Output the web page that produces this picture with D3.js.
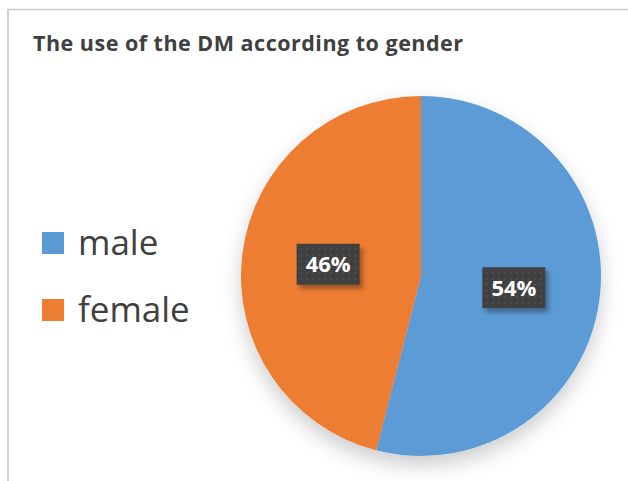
<!DOCTYPE html>
<html lang="en">
<head>
  <meta charset="utf-8">
  <title>The use of the DM according to gender</title>
  <script src="https://d3js.org/d3.v7.min.js"></script>
  <style>
    body { margin: 0; background: #fff; }
    text { font-family: "Open Sans", "Noto Sans", sans-serif; }
  </style>
</head>
<body>
  <div id="chart"></div>
  <script>
    // data
    var categories = ["male", "female"];
    var values = [54, 46];
    var colors = ["#5B9BD5", "#ED7D31"];
    var title = "The use of the DM according to gender";

    var width = 628, height = 481;
    var cx = 421, cy = 276, radius = 180;

    var svg = d3.select("#chart").append("svg")
      .attr("width", width)
      .attr("height", height);

    var defs = svg.append("defs");

    // soft shadow under the pie
    var pieShadow = defs.append("filter").attr("id", "pieShadow")
      .attr("x", "-30%").attr("y", "-30%").attr("width", "160%").attr("height", "160%");
    pieShadow.append("feDropShadow")
      .attr("dx", 0).attr("dy", 9).attr("stdDeviation", 10)
      .attr("flood-color", "#000").attr("flood-opacity", 0.2);

    var labelShadow = defs.append("filter").attr("id", "labelShadow")
      .attr("x", "-30%").attr("y", "-30%").attr("width", "170%").attr("height", "170%");
    labelShadow.append("feDropShadow")
      .attr("dx", 3).attr("dy", 4).attr("stdDeviation", 2.5)
      .attr("flood-color", "#000").attr("flood-opacity", 0.35);

    // dotted dark fill for the data labels
    var pat = defs.append("pattern").attr("id", "dots")
      .attr("width", 6).attr("height", 6).attr("patternUnits", "userSpaceOnUse");
    pat.append("rect").attr("width", 6).attr("height", 6).attr("fill", "#404040");
    pat.append("circle").attr("cx", 3).attr("cy", 3).attr("r", 1).attr("fill", "#555");

    // frame
    svg.append("path")
      .attr("d", "M8,481 V9.5 H628")
      .attr("fill", "none")
      .attr("stroke", "#c9c9c9")
      .attr("stroke-width", 1.6);

    svg.append("text")
      .attr("x", 33).attr("y", 51)
      .attr("font-size", 21.5).attr("font-weight", "bold")
      .attr("fill", "#404040")
      .attr("textLength", 430)
      .attr("lengthAdjust", "spacing")
      .text(title);

    // pie
    var pie = d3.pie().sort(null)(values);
    var arc = d3.arc().innerRadius(0).outerRadius(radius);

    var g = svg.append("g").attr("transform", "translate(" + cx + "," + cy + ")");

    g.append("g").attr("filter", "url(#pieShadow)")
      .selectAll("path").data(pie).enter()
      .append("path")
      .attr("d", arc)
      .attr("fill", function (d, i) { return colors[i]; });

    // data labels
    var labelArc = d3.arc().innerRadius(radius * 0.52).outerRadius(radius * 0.52);
    var boxW = 63, boxH = 41;
    var labels = g.selectAll(".lbl").data(pie).enter()
      .append("g")
      .attr("class", "lbl")
      .attr("transform", function (d) {
        var c = labelArc.centroid(d);
        return "translate(" + c[0] + "," + c[1] + ")";
      });
    labels.append("rect")
      .attr("x", -boxW / 2).attr("y", -boxH / 2)
      .attr("width", boxW).attr("height", boxH)
      .attr("fill", "url(#dots)")
      .attr("filter", "url(#labelShadow)");
    labels.append("text")
      .attr("text-anchor", "middle")
      .attr("dy", "0.36em")
      .attr("font-size", 22).attr("font-weight", "bold")
      .attr("fill", "#fff")
      .text(function (d) { return d.data + "%"; });

    // legend
    var legend = svg.selectAll(".leg").data(categories).enter()
      .append("g")
      .attr("class", "leg")
      .attr("transform", function (d, i) { return "translate(42," + (243 + i * 67) + ")"; });
    legend.append("rect")
      .attr("x", 0).attr("y", -11)
      .attr("width", 22).attr("height", 22)
      .attr("fill", function (d, i) { return colors[i]; });
    legend.append("text")
      .attr("x", 36).attr("y", 12)
      .attr("font-size", 35)
      .attr("fill", "#404040")
      .text(function (d) { return d; });
  </script>
</body>
</html>
